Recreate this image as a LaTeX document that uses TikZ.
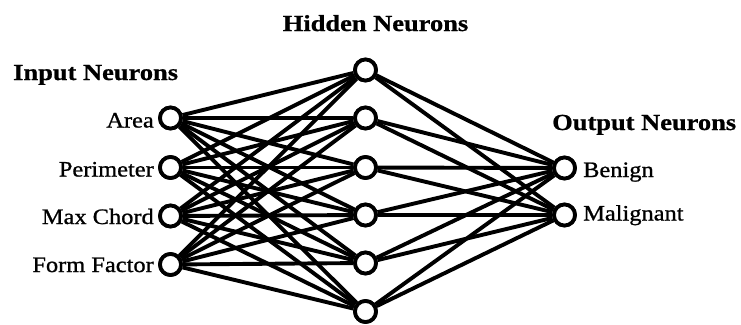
\documentclass[tikz,border=0pt]{standalone}
\usepackage{fontspec}
\setmainfont{Liberation Serif}
\newfontfamily\labfont[FakeStretch=1.11,FakeBold=1]{Liberation Serif}
\newfontfamily\ttlfont[FakeStretch=1.15,FakeBold=0.8]{Liberation Serif}
\begin{document}
\begin{tikzpicture}[x=1pt,y=-1pt,
  neuron/.style={circle,draw=black,fill=white,line width=3.8pt,minimum size=21pt,inner sep=0pt},
  wire/.style={line width=3.9pt},
  ttl/.style={font=\ttlfont\bfseries\fontsize{23}{26}\selectfont,inner sep=0pt},
  lab/.style={font=\labfont\fontsize{22}{25}\selectfont,inner sep=0pt}]
\useasboundingbox (0,0) rectangle (741,324);
% neurons
\node[neuron] (i1) at (170.5,118) {};
\node[neuron] (i2) at (170.5,167.5) {};
\node[neuron] (i3) at (170.5,216) {};
\node[neuron] (i4) at (170.5,264.5) {};
\node[neuron] (h1) at (365.5,70) {};
\node[neuron] (h2) at (365.5,118) {};
\node[neuron] (h3) at (365.5,167.5) {};
\node[neuron] (h4) at (365.5,215) {};
\node[neuron] (h5) at (365.5,263) {};
\node[neuron] (h6) at (365.5,311.5) {};
\node[neuron] (o1) at (564.5,168) {};
\node[neuron] (o2) at (564.5,215) {};
% connections
\foreach \i in {1,...,4}
  \foreach \h in {1,...,6}
    \draw[wire] (i\i) -- (h\h);
\foreach \h in {1,...,6}
  \foreach \o in {1,2}
    \draw[wire] (h\h) -- (o\o);
% redraw neurons on top
\foreach \n in {i1,i2,i3,i4,h1,h2,h3,h4,h5,h6,o1,o2}
  \node[neuron] at (\n) {};
% titles
\node[ttl,anchor=base] (th) at (375.5,31) {Hidden Neurons};
\node[ttl,anchor=base west] (ti) at (13,80) {Input Neurons};
\node[ttl,anchor=base west] (to) at (552,130) {Output Neurons};
% labels
\node[lab,anchor=base east] (l1) at (154,127.5) {Area};
\node[lab,anchor=base east] (l2) at (154,176.5) {Perimeter};
\node[lab,anchor=base east] (l3) at (154,224) {Max Chord};
\node[lab,anchor=base east] (l4) at (154,272) {Form Factor};
\node[lab,anchor=base west] (l5) at (583,177) {Benign};
\node[lab,anchor=base west] (l6) at (583,220.5) {Malignant};
\end{tikzpicture}
\end{document}
